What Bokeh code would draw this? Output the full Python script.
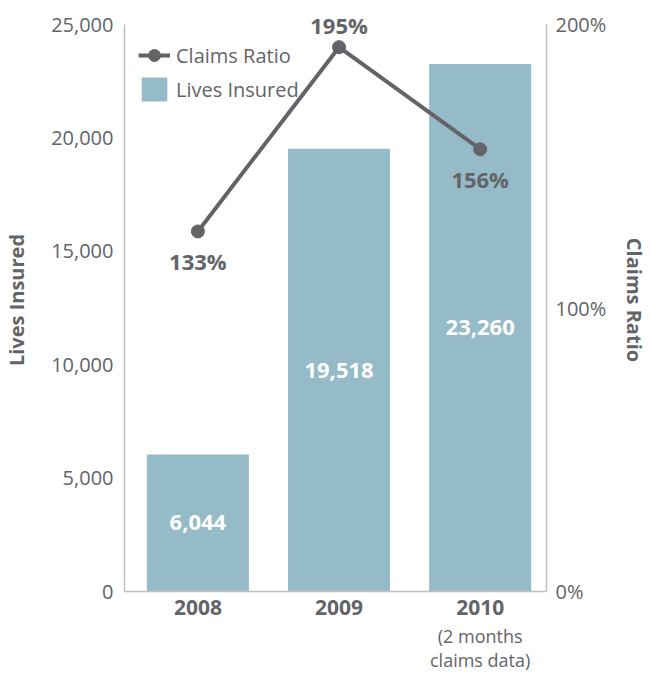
from bokeh.plotting import figure
from bokeh.models import (Range1d, LinearAxis, FixedTicker, NumeralTickFormatter,
                          PrintfTickFormatter, Legend, LegendItem, ColumnDataSource,
                          LabelSet)
from bokeh.core.properties import value
from bokeh.embed import file_html
from bokeh.resources import INLINE

# ---- data ----
years = ["2008", "2009", "2010"]
year_notes = ["", "", "(2 months\nclaims data)"]
lives_insured = [6044, 19518, 23260]
lives_labels = ["6,044", "19,518", "23,260"]
claims_ratio = [127, 192, 156]          # % as drawn
claims_labels = ["133%", "195%", "156%"]
left_ticks = [0, 5000, 10000, 15000, 20000, 25000]
right_ticks = [0, 100, 200]

FONT = "Open Sans"
GRAY = "#636467"
AXIS = "#bfbfbf"
BAR = "#96bbc8"

idx = list(range(len(years)))

# frame: 567 px for the axis span plus some head-room so top labels aren't clipped
AX_PX = 567
HEAD_PX = 16
FRAME_H = AX_PX + HEAD_PX
left_max = max(left_ticks)
right_max = max(right_ticks)

p = figure(frame_width=422, frame_height=FRAME_H, output_backend="svg", toolbar_location=None,
           x_range=Range1d(-0.52, len(years) - 0.53),
           y_range=Range1d(0, left_max * FRAME_H / AX_PX),
           min_border_left=118, min_border_right=95, min_border_top=24 - HEAD_PX,
           min_border_bottom=60)
p.extra_y_ranges = {"ratio": Range1d(0, right_max * FRAME_H / AX_PX)}
p.outline_line_color = None
p.grid.grid_line_color = None
p.background_fill_color = "white"
p.border_fill_color = "white"

# x axis (years, bold)
xa = p.xaxis[0]
xa.ticker = FixedTicker(ticks=idx)
xa.major_label_overrides = {i: y for i, y in zip(idx, years)}
xa.major_label_text_font = FONT
xa.major_label_text_font_style = "bold"
xa.major_label_text_font_size = "21px"
xa.major_label_text_color = GRAY
xa.major_tick_line_color = None
xa.minor_tick_line_color = None
xa.axis_line_color = AXIS
xa.axis_line_width = 1.5
xa.major_label_standoff = 2

# second x axis for notes
xa2 = LinearAxis(ticker=FixedTicker(ticks=idx),
                 major_label_overrides={i: n for i, n in zip(idx, year_notes)})
xa2.major_label_text_font = FONT
xa2.major_label_text_font_size = "18px"
xa2.major_label_text_color = GRAY
xa2.major_label_text_line_height = 1.0
xa2.major_tick_line_color = None
xa2.minor_tick_line_color = None
xa2.axis_line_color = None
xa2.major_label_standoff = 0
p.add_layout(xa2, "below")


def style_y(ax):
    ax.major_label_text_font = FONT
    ax.major_label_text_font_size = "20px"
    ax.major_label_text_color = GRAY
    ax.major_tick_line_color = None
    ax.minor_tick_line_color = None
    ax.axis_line_color = AXIS
    ax.axis_line_width = 1.5
    ax.axis_label_text_font = FONT
    ax.axis_label_text_font_style = "bold"
    ax.axis_label_text_font_size = "20px"
    ax.axis_label_text_color = GRAY


# left axis
ya = p.yaxis[0]
ya.ticker = FixedTicker(ticks=left_ticks)
ya.formatter = NumeralTickFormatter(format="0,0")
ya.axis_label = "Lives Insured"
ya.bounds = (0, left_max)
style_y(ya)
ya.major_label_standoff = 5
ya.axis_label_standoff = 18

# right axis
yr = LinearAxis(y_range_name="ratio", ticker=FixedTicker(ticks=right_ticks),
                formatter=PrintfTickFormatter(format="%d%%"), axis_label="Claims Ratio",
                bounds=(0, right_max))
style_y(yr)
yr.major_label_standoff = 3
yr.axis_label_standoff = 12
yr.axis_label_orientation = "vertical"
p.add_layout(yr, "right")

# bars
bar_src = ColumnDataSource(dict(x=idx, top=lives_insured, lab=lives_labels,
                                ly=[v / 2 for v in lives_insured]))
bars = p.vbar(x="x", top="top", width=0.723, bottom=0, source=bar_src,
              fill_color=BAR, line_color=None)
p.text(x="x", y="ly", text="lab", source=bar_src, text_align="center",
       text_baseline="middle", text_color="white", text_font=value(FONT),
       text_font_style="bold", text_font_size="22px")

# line
line_src = ColumnDataSource(dict(x=idx, y=claims_ratio, lab=claims_labels,
                                 off=[-30, 22, -30]))
ln = p.line(x="x", y="y", source=line_src, y_range_name="ratio",
            line_color=GRAY, line_width=4)
pts = p.scatter(x="x", y="y", source=line_src, y_range_name="ratio",
                size=13, fill_color=GRAY, line_color=GRAY)
labels = LabelSet(x="x", y="y", text="lab", source=line_src, y_range_name="ratio",
                  y_offset="off", text_align="center", text_baseline="middle",
                  text_color=GRAY, text_font=value(FONT), text_font_style="bold",
                  text_font_size="22px")
p.add_layout(labels)

legend = Legend(items=[LegendItem(label="Claims Ratio", renderers=[ln, pts]),
                       LegendItem(label="Lives Insured", renderers=[bars])],
                location=(14, FRAME_H - 96))
legend.margin = 0
legend.padding = 0
legend.spacing = 4
legend.glyph_width = 32
legend.glyph_height = 30
legend.label_text_font = FONT
legend.label_text_font_size = "20px"
legend.label_text_color = GRAY
legend.label_standoff = 6
legend.background_fill_alpha = 0
legend.border_line_color = None
p.add_layout(legend)

open("out.html", "w").write(file_html(p, INLINE))
